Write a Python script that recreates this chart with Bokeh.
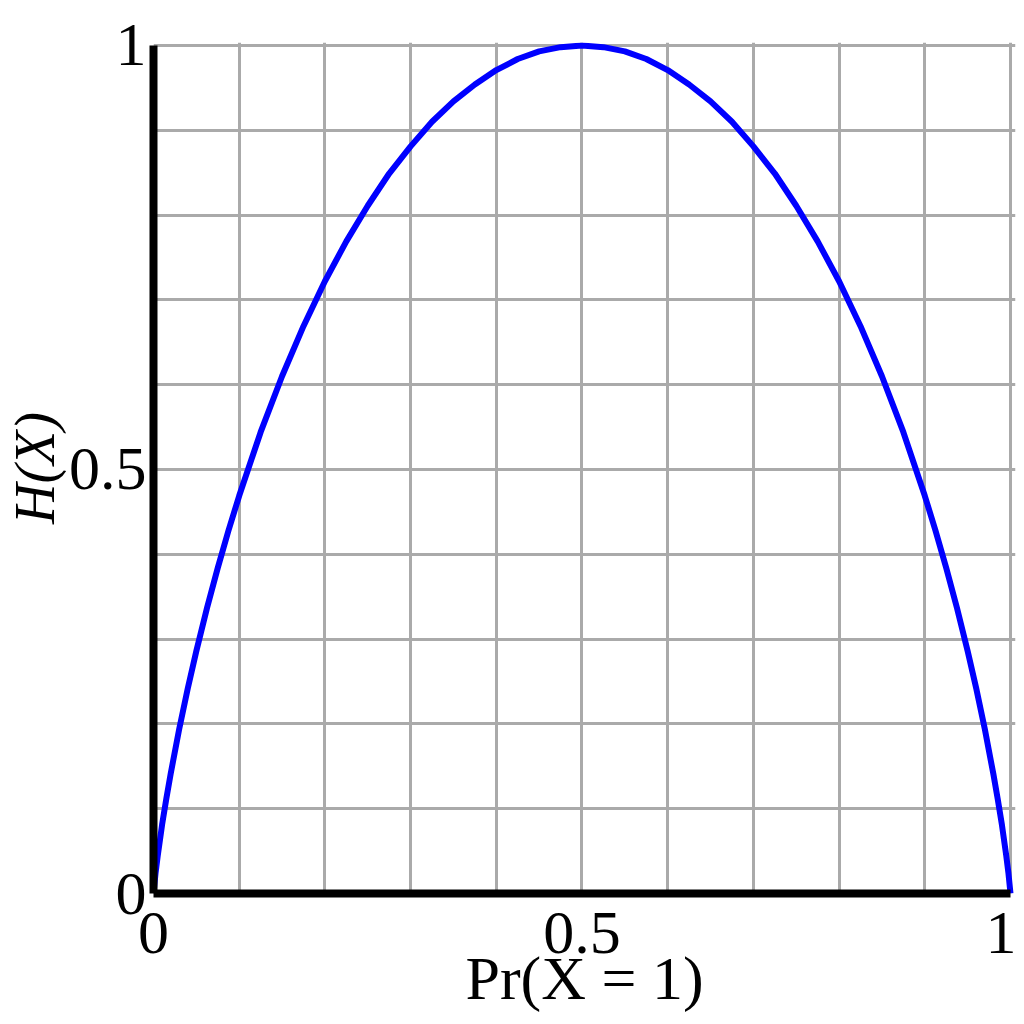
from bokeh.plotting import figure
from bokeh.models import FixedTicker, Range1d
from bokeh.embed import file_html
from bokeh.resources import INLINE

# Data
p_vals = [0, 0.0025, 0.005, 0.01, 0.015, 0.02, 0.03, 0.04, 0.05, 0.0625, 0.075, 0.0875,
          0.1, 0.125, 0.15, 0.175, 0.2, 0.225, 0.25, 0.275, 0.3, 0.325, 0.35, 0.375,
          0.4, 0.425, 0.45, 0.475, 0.5, 0.525, 0.55, 0.575, 0.6, 0.625, 0.65, 0.675,
          0.7, 0.725, 0.75, 0.775, 0.8, 0.825, 0.85, 0.875, 0.9, 0.9125, 0.925, 0.9375,
          0.95, 0.96, 0.97, 0.98, 0.985, 0.99, 0.995, 0.9975, 1]
h_vals = [0, 0.025, 0.045, 0.081, 0.112, 0.141, 0.194, 0.242, 0.286, 0.337, 0.384, 0.428,
          0.469, 0.544, 0.610, 0.669, 0.722, 0.769, 0.811, 0.849, 0.881, 0.910, 0.934,
          0.954, 0.971, 0.984, 0.993, 0.998, 1.0, 0.998, 0.993, 0.984, 0.971, 0.954,
          0.934, 0.910, 0.881, 0.849, 0.811, 0.769, 0.722, 0.669, 0.610, 0.544, 0.469,
          0.428, 0.384, 0.337, 0.286, 0.242, 0.194, 0.141, 0.112, 0.081, 0.045, 0.025, 0]
major_ticks = [0, 0.5, 1]
minor_ticks = [0.1, 0.2, 0.3, 0.4, 0.6, 0.7, 0.8, 0.9]
tick_labels = {0: "0", 0.5: "0.5", 1: "1"}
x_label = "Pr(X = 1)"
y_label = "H(X)"

FONT = "Liberation Serif"
FS = "62px"

p = figure(width=1016, height=1016, output_backend="svg", toolbar_location=None,
           x_range=Range1d(0, 1.00585), y_range=Range1d(0, 1.0035),
           min_border_left=147, min_border_right=1, min_border_top=42,
           min_border_bottom=123)
p.outline_line_color = None

p.line(p_vals, h_vals, line_color="#0000ff", line_width=6, line_join="round")

for ax in (p.xaxis[0], p.yaxis[0]):
    ax.ticker = FixedTicker(ticks=major_ticks, minor_ticks=minor_ticks)
    ax.major_label_overrides = tick_labels
    ax.bounds = (0, 1)
    ax.axis_line_color = "black"
    ax.axis_line_width = 8
    ax.major_tick_line_color = None
    ax.minor_tick_line_color = None
    ax.major_label_text_font = FONT
    ax.major_label_text_font_size = FS
    ax.major_label_text_color = "black"
    ax.axis_label_text_font = FONT
    ax.axis_label_text_font_size = FS
    ax.axis_label_text_font_style = "normal"
    ax.axis_label_text_color = "black"

p.xaxis.axis_label = x_label
p.yaxis.axis_label = y_label
p.yaxis.axis_label_text_font_size = "56px"
p.yaxis.axis_label_text_font_style = "italic"
p.xaxis.major_label_standoff = 13
p.xaxis.axis_label_standoff = -12
p.yaxis.major_label_standoff = 1
p.yaxis.axis_label_standoff = 0

for g in (p.xgrid[0], p.ygrid[0]):
    g.grid_line_color = "#aaaaaa"
    g.grid_line_width = 3
    g.minor_grid_line_color = "#aaaaaa"
    g.minor_grid_line_width = 3

open("out.html", "w").write(file_html(p, INLINE))
